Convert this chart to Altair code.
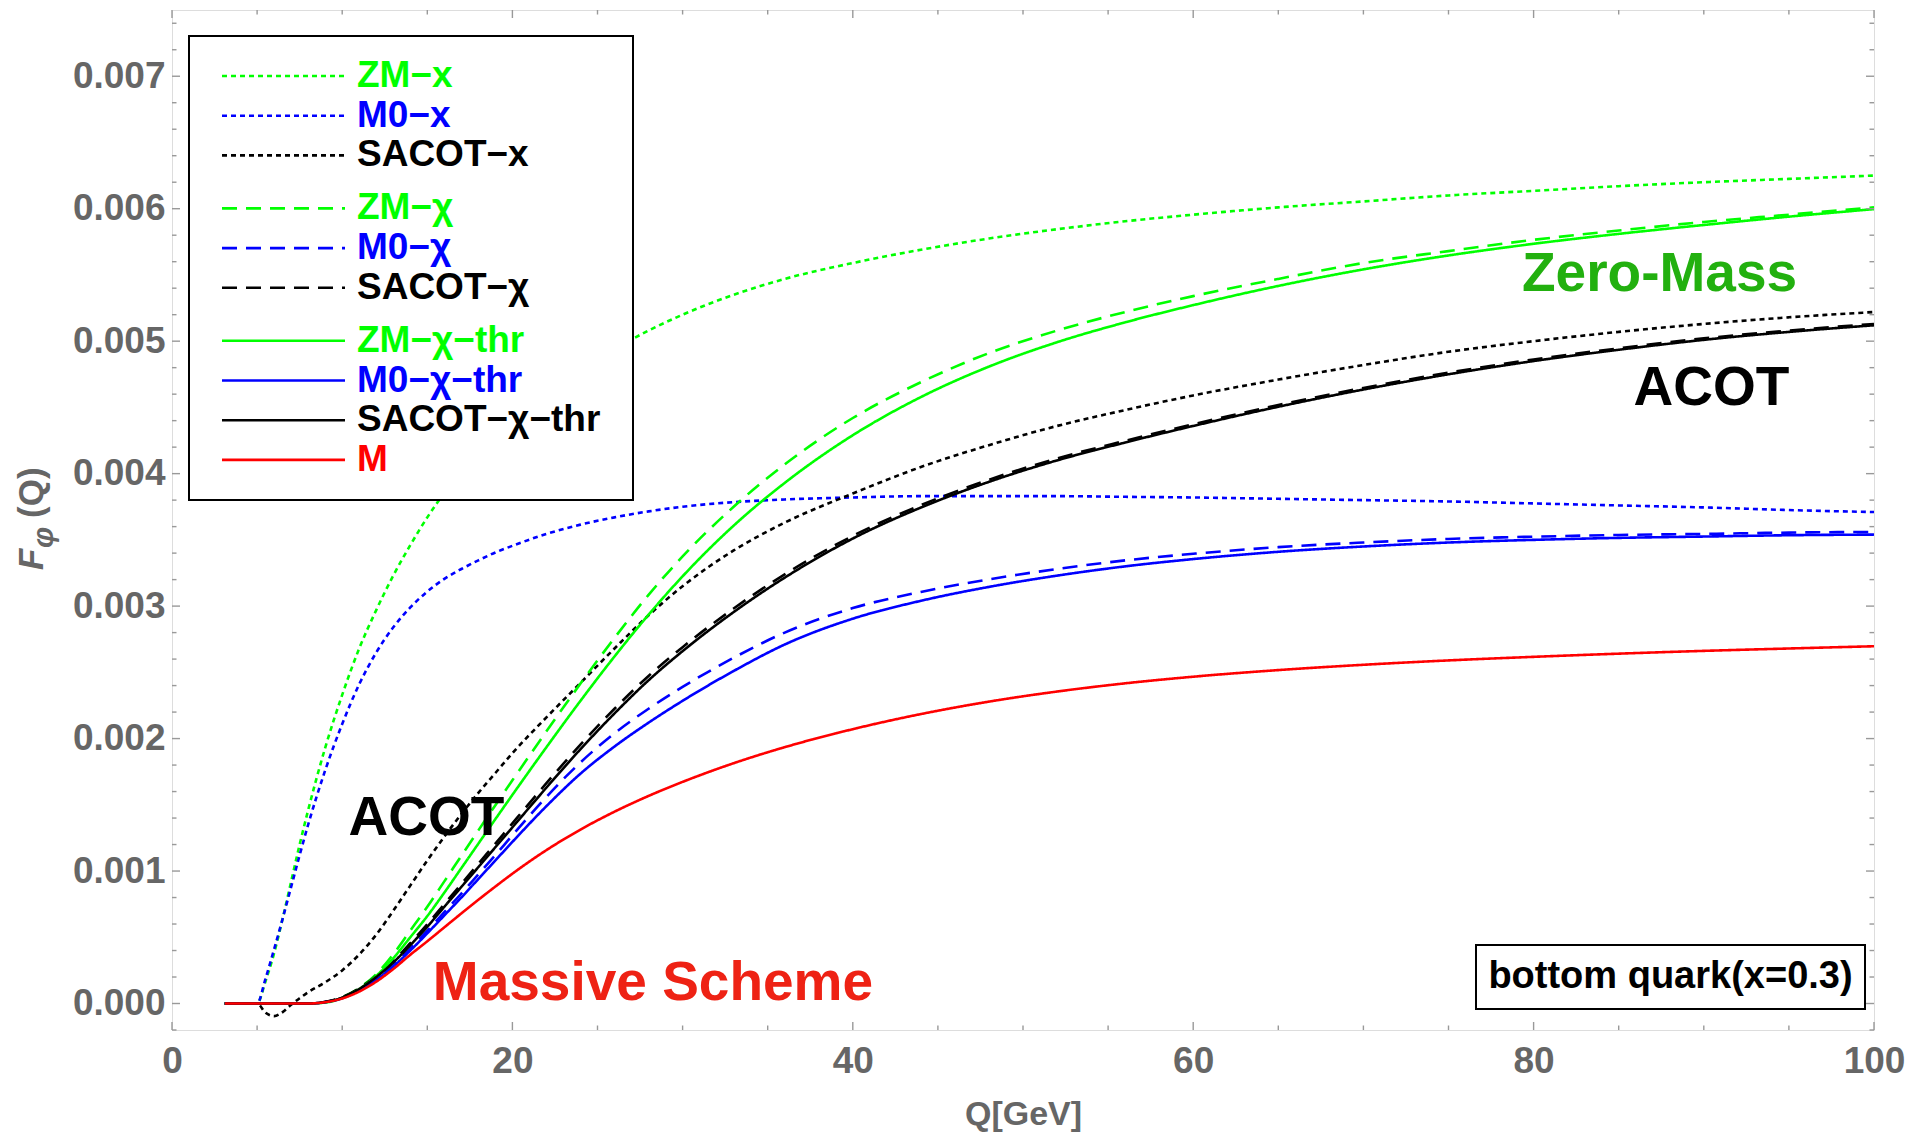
import altair as alt
import pandas as pd

# ---------------- data (values of F in units of 1e-3) ----------------
Q = [3.1, 4, 5, 5.5, 6, 6.5, 7, 7.5, 8, 9, 10, 11, 12, 13, 14, 15, 16, 17, 18, 19, 20,
     22, 24, 26, 28, 30, 33, 36, 40, 44, 48, 52, 56, 60, 65, 70, 75, 80, 85, 90, 95, 100]

zm_x = [0, 0, 0, 0.17, 0.38, 0.64, 0.92, 1.20, 1.46, 1.93, 2.33, 2.68, 2.97, 3.23, 3.46, 3.67,
        3.855, 4.015, 4.16, 4.29, 4.40, 4.60, 4.78, 4.94, 5.08, 5.20, 5.35, 5.47, 5.59, 5.69,
        5.775, 5.845, 5.905, 5.955, 6.01, 6.055, 6.10, 6.135, 6.17, 6.20, 6.225, 6.25]
m0_x = [0, 0, 0, 0.19, 0.41, 0.64, 0.88, 1.12, 1.35, 1.76, 2.11, 2.41, 2.65, 2.84, 2.99, 3.11,
        3.205, 3.28, 3.345, 3.405, 3.455, 3.545, 3.615, 3.67, 3.715, 3.75, 3.785, 3.805, 3.82,
        3.83, 3.83, 3.83, 3.825, 3.82, 3.81, 3.80, 3.79, 3.775, 3.76, 3.745, 3.725, 3.71]
sacot_x = [0, 0, 0, -0.07, -0.095, -0.065, -0.01, 0.04, 0.085, 0.16, 0.25, 0.37, 0.52, 0.70,
           0.89, 1.08, 1.26, 1.43, 1.59, 1.74, 1.89, 2.16, 2.42, 2.68, 2.93, 3.15, 3.42, 3.63,
           3.85, 4.05, 4.215, 4.36, 4.48, 4.59, 4.71, 4.82, 4.92, 5.00, 5.07, 5.13, 5.18, 5.22]
zm_chi = [0, 0, 0, 0, 0, 0, 0, 0, 0, 0.009, 0.047, 0.117, 0.221, 0.372, 0.55, 0.73, 0.922,
          1.115, 1.307, 1.497, 1.685, 2.055, 2.415, 2.76, 3.085, 3.375, 3.75, 4.07, 4.42, 4.69,
          4.91, 5.08, 5.22, 5.34, 5.47, 5.59, 5.68, 5.765, 5.835, 5.90, 5.955, 6.01]
m0_chi = [0, 0, 0, 0, 0, 0, 0, 0, 0, 0.011, 0.043, 0.105, 0.188, 0.29, 0.415, 0.55, 0.69, 0.83,
          0.975, 1.12, 1.27, 1.56, 1.82, 2.04, 2.225, 2.39, 2.61, 2.80, 2.985, 3.107, 3.202,
          3.28, 3.345, 3.395, 3.445, 3.48, 3.507, 3.524, 3.537, 3.545, 3.555, 3.56]
sacot_chi = [0, 0, 0, 0, 0, 0, 0, 0, 0, 0.013, 0.048, 0.115, 0.207, 0.32, 0.455, 0.598, 0.75,
             0.902, 1.055, 1.207, 1.36, 1.663, 1.955, 2.225, 2.473, 2.69, 2.982, 3.24, 3.53,
             3.762, 3.954, 4.115, 4.248, 4.373, 4.518, 4.647, 4.762, 4.862, 4.946, 5.021,
             5.08, 5.13]
zm_chi_thr = [0, 0, 0, 0, 0, 0, 0, 0, 0, 0.007, 0.042, 0.109, 0.209, 0.342, 0.50, 0.66, 0.837,
              1.022, 1.207, 1.392, 1.575, 1.935, 2.285, 2.62, 2.935, 3.225, 3.6075, 3.93, 4.29,
              4.578, 4.808, 4.992, 5.142, 5.272, 5.417, 5.542, 5.647, 5.735, 5.81, 5.877,
              5.94, 5.997]
m0_chi_thr = [0, 0, 0, 0, 0, 0, 0, 0, 0, 0.01, 0.04, 0.10, 0.18, 0.28, 0.40, 0.53, 0.665, 0.80,
              0.94, 1.08, 1.22, 1.49, 1.735, 1.94, 2.12, 2.285, 2.51, 2.71, 2.905, 3.04, 3.145,
              3.23, 3.30, 3.355, 3.41, 3.45, 3.48, 3.50, 3.515, 3.525, 3.535, 3.54]
sacot_chi_thr = [0, 0, 0, 0, 0, 0, 0, 0, 0, 0.012, 0.045, 0.11, 0.20, 0.31, 0.44, 0.58, 0.73,
                 0.88, 1.03, 1.18, 1.33, 1.63, 1.92, 2.19, 2.44, 2.66, 2.955, 3.215, 3.51,
                 3.744, 3.938, 4.10, 4.235, 4.36, 4.505, 4.635, 4.75, 4.85, 4.935, 5.01, 5.07,
                 5.12]
m_massive = [0, 0, 0, 0, 0, 0, 0, 0, 0, 0.01, 0.038, 0.09, 0.165, 0.26, 0.368, 0.47, 0.575,
             0.68, 0.783, 0.883, 0.98, 1.158, 1.313, 1.448, 1.567, 1.673, 1.814, 1.935, 2.071,
             2.185, 2.279, 2.355, 2.417, 2.467, 2.517, 2.557, 2.59, 2.617, 2.641, 2.662, 2.68,
             2.697]

series_names = ["ZM-x", "M0-x", "SACOT-x", "ZM-chi", "M0-chi", "SACOT-chi",
                "ZM-chi-thr", "M0-chi-thr", "SACOT-chi-thr", "M"]
legend_labels = ["ZM−x", "M0−x", "SACOT−x", "ZM−χ", "M0−χ", "SACOT−χ",
                 "ZM−χ−thr", "M0−χ−thr", "SACOT−χ−thr", "M"]
curves = [zm_x, m0_x, sacot_x, zm_chi, m0_chi, sacot_chi,
          zm_chi_thr, m0_chi_thr, sacot_chi_thr, m_massive]

x_major = [0, 20, 40, 60, 80, 100]
x_minor = [5, 10, 15, 25, 30, 35, 45, 50, 55, 65, 70, 75, 85, 90, 95]
y_major = [0.0, 0.001, 0.002, 0.003, 0.004, 0.005, 0.006, 0.007]
y_minor = [round(k * 0.0002, 4) for k in range(-1, 38) if k % 5 != 0]

ann_labels = ["Zero-Mass", "ACOT", "ACOT", "Massive Scheme"]
ann_q = [87.4, 90.45, 14.95, 28.26]
ann_f = [0.005379, 0.004518, 0.001272, 0.000026]
ann_colors = ["#22B00F", "#000000", "#000000", "#EE2214"]

box_label = "bottom quark(x=0.3)"
x_title = "Q[GeV]"
y_title_parts = ["F", "φ", "(Q)"]

# ---------------- styles ----------------
FONT = "Liberation Sans"
W, H = 1702, 1020
GRAY = "#666666"
FRAME = "#999999"
line_colors = ["#00FF00", "#0000FF", "#000000"] * 3 + ["#FF0000"]
DOT, DASH, SOLID = [5, 4], [15, 9], [1, 0]
line_dashes = [DOT] * 3 + [DASH] * 3 + [SOLID] * 4

rows = []
for name, vals in zip(series_names, curves):
    for q, v in zip(Q, vals):
        rows.append({"series": name, "Q": q, "F": v * 1e-3})
df = pd.DataFrame(rows)

xs = alt.Scale(domain=[0, 100], nice=False, zero=False)
ys = alt.Scale(domain=[-0.0002, 0.0075], nice=False, zero=False)
cs = alt.Scale(domain=series_names, range=line_colors)
ds = alt.Scale(domain=series_names, range=line_dashes)

xaxis = alt.Axis(values=x_major, title=x_title, grid=False, ticks=False, tickSize=0,
                 domain=False, labelFont=FONT, labelFontSize=37, labelFontWeight="bold",
                 labelColor=GRAY, labelPadding=13, labelFlush=False, titleFont=FONT,
                 titleFontSize=34, titleFontWeight="bold", titleColor=GRAY, titleY=94,
                 titleBaseline="alphabetic")
yaxis = alt.Axis(values=y_major, format=".3f", title="", grid=False, ticks=False,
                 tickSize=0, domain=False, labelFont=FONT, labelFontSize=37,
                 labelFontWeight="bold", labelColor=GRAY, labelPadding=7, labelFlush=False)

layers = []
for name in series_names:
    layers.append(
        alt.Chart(df).transform_filter(alt.datum.series == name)
        .mark_line(interpolate="monotone", strokeWidth=2.6, clip=True)
        .encode(
            x=alt.X("Q:Q", scale=xs, axis=xaxis),
            y=alt.Y("F:Q", scale=ys, axis=yaxis),
            color=alt.Color("series:N", scale=cs, legend=None),
            strokeDash=alt.StrokeDash("series:N", scale=ds, legend=None),
        )
    )

one = alt.Data(values=[{}])

# legend box
layers.append(
    alt.Chart(one).mark_rect(fill="white", stroke="black", strokeWidth=2).encode(
        x=alt.value(17), x2=alt.value(461), y=alt.value(26), y2=alt.value(490))
)
legdf = pd.DataFrame({"series": series_names, "label": legend_labels,
                      "i": list(range(len(series_names)))})
ly = "66 + datum.i*39.7 + min(floor(datum.i/3), 2)*13.3"
layers.append(
    alt.Chart(legdf).transform_calculate(ly=ly).mark_rule(strokeWidth=2.6).encode(
        x=alt.value(50), x2=alt.value(173),
        y=alt.Y("ly:Q", scale=None, axis=None),
        color=alt.Color("series:N", scale=cs, legend=None),
        strokeDash=alt.StrokeDash("series:N", scale=ds, legend=None),
    )
)
layers.append(
    alt.Chart(legdf).transform_calculate(ly=ly)
    .mark_text(align="left", baseline="middle", font=FONT, fontSize=37, fontWeight="bold")
    .encode(
        x=alt.value(185),
        y=alt.Y("ly:Q", scale=None, axis=None),
        text="label:N",
        color=alt.Color("series:N", scale=cs, legend=None),
    )
)

# annotations
for lab, q, f, c in zip(ann_labels, ann_q, ann_f, ann_colors):
    adf = pd.DataFrame({"Q": [q], "F": [f], "label": [lab]})
    layers.append(
        alt.Chart(adf).mark_text(align="center", baseline="alphabetic", font=FONT,
                                 fontSize=55, fontWeight="bold", color=c)
        .encode(x=alt.X("Q:Q", scale=xs, axis=xaxis), y=alt.Y("F:Q", scale=ys, axis=yaxis),
                text="label:N")
    )

# bottom quark box
layers.append(
    alt.Chart(one).mark_rect(fill="white", stroke="black", strokeWidth=2).encode(
        x=alt.value(1304), x2=alt.value(1693), y=alt.value(935), y2=alt.value(999))
)
layers.append(
    alt.Chart(alt.Data(values=[{"t": box_label}])).mark_text(
        align="center", baseline="middle", font=FONT, fontSize=38, fontWeight="bold",
        color="black").encode(x=alt.value(1498.5), y=alt.value(967), text="t:N")
)

# y-axis title, F with italic subscript phi
yt_specs = [  # (text, x, y, size, style)
    (y_title_parts[0], -129, 560, 35, "italic"),
    (y_title_parts[1], -119, 538, 30, "italic"),
    (y_title_parts[2], -129, 508, 35, "normal"),
]
for txt, tx, ty, fs, st in yt_specs:
    layers.append(
        alt.Chart(alt.Data(values=[{"t": txt}])).mark_text(
            align="left", baseline="alphabetic", angle=270, font=FONT, fontSize=fs,
            fontWeight="bold", fontStyle=st, color=GRAY).encode(
            x=alt.value(tx), y=alt.value(ty), text="t:N")
    )


# inward frame ticks
def xticks(vals, length):
    d = pd.DataFrame({"Q": vals})
    bot = alt.Chart(d).mark_rule(color=FRAME, strokeWidth=1.4).encode(
        x=alt.X("Q:Q", scale=xs, axis=xaxis), y=alt.value(H), y2=alt.value(H - length))
    top = alt.Chart(d).mark_rule(color=FRAME, strokeWidth=1.4).encode(
        x=alt.X("Q:Q", scale=xs, axis=xaxis), y=alt.value(0), y2=alt.value(length))
    return [bot, top]


def yticks(vals, length):
    d = pd.DataFrame({"F": vals})
    left = alt.Chart(d).mark_rule(color=FRAME, strokeWidth=1.4).encode(
        y=alt.Y("F:Q", scale=ys, axis=yaxis), x=alt.value(0), x2=alt.value(length))
    right = alt.Chart(d).mark_rule(color=FRAME, strokeWidth=1.4).encode(
        y=alt.Y("F:Q", scale=ys, axis=yaxis), x=alt.value(W), x2=alt.value(W - length))
    return [left, right]


layers += xticks(x_major, 8) + xticks(x_minor, 4.5) + yticks(y_major, 8) + yticks(y_minor, 4.5)

chart = (
    alt.layer(*layers)
    .properties(width=W, height=H,
                autosize=alt.AutoSizeParams(type="none"),
                padding={"left": 172, "top": 10, "right": 36, "bottom": 108},
                background="white")
    .configure_view(stroke=FRAME, strokeWidth=1.8)
    .configure(font=FONT)
)

chart.save("out.html", embed_options={"renderer": "svg", "actions": False})
